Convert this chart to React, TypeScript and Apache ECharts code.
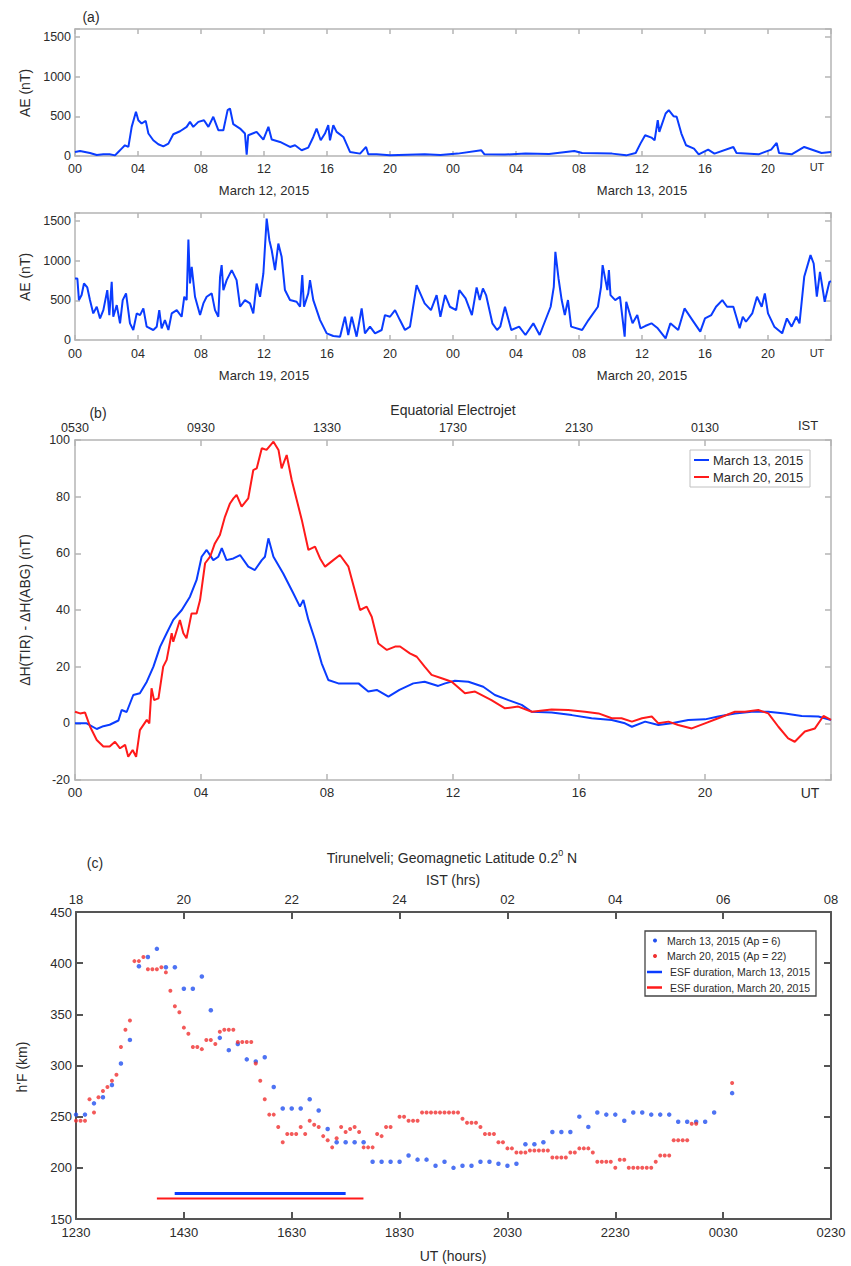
import React, { useEffect, useRef } from "react";
import * as echarts from "echarts";

// ---------------- DATA ----------------
// (a) AE index, hours from 00 UT of first day
const aeMar1213: [number, number][] = [
  [0,51],[0.32,63],[0.95,38],[1.38,13],[1.8,21],[2.2,21],[2.54,8],[2.75,51],[2.96,93],[3.17,135],[3.39,114],[3.6,367],[3.75,473],[3.87,557],[4.02,451],[4.23,409],[4.49,443],[4.66,283],[4.97,198],[5.29,148],[5.61,122],[5.93,156],[6.24,274],[6.67,312],[7.09,367],[7.3,430],[7.51,367],[7.83,430],[8.19,451],[8.47,367],[8.78,494],[9.1,325],[9.42,325],[9.69,578],[9.84,599],[10.05,401],[10.48,346],[10.79,283],[10.9,17],[11.0,262],[11.53,304],[11.96,207],[12.28,367],[12.49,207],[13.02,177],[13.65,114],[13.97,135],[14.39,72],[14.81,105],[15.13,240],[15.34,346],[15.6,198],[15.87,283],[16.08,388],[16.19,198],[16.4,388],[16.61,304],[17.04,240],[17.46,51],[18.1,30],[18.48,114],[18.62,21],[19.15,21],[20,8],[21.1,15],[22.2,21],[23.2,12],[24.3,30],[25.8,72],[26,21],[27.3,18],[28.6,30],[30.1,25],[31.7,63],[32.2,38],[34.1,30],[35,8],[35.6,38],[35.9,156],[36.2,262],[36.6,232],[36.8,198],[37.0,451],[37.1,304],[37.5,536],[37.7,578],[38.0,502],[38.2,494],[38.5,283],[38.8,135],[39.3,93],[39.6,21],[40.2,80],[40.6,30],[41.8,114],[42.0,38],[43.4,21],[44.2,80],[44.55,165],[44.7,38],[45.5,21],[46.3,114],[47.4,38],[48,51]
];
const aeMar1920: [number, number][] = [
  [0,775],[0.15,775],[0.25,503],[0.42,566],[0.57,712],[0.78,662],[0.95,503],[1.16,335],[1.38,419],[1.59,272],[1.8,377],[2.05,629],[2.18,314],[2.33,733],[2.43,293],[2.65,440],[2.86,210],[3.03,503],[3.24,587],[3.49,210],[3.7,126],[3.92,335],[4.13,314],[4.34,398],[4.55,168],[4.97,126],[5.19,168],[5.35,377],[5.5,147],[5.71,251],[5.93,126],[6.14,335],[6.46,377],[6.77,293],[6.94,545],[7.09,503],[7.2,1265],[7.3,712],[7.41,922],[7.62,545],[7.94,314],[8.15,461],[8.36,545],[8.68,587],[8.89,377],[9.1,293],[9.21,796],[9.31,943],[9.42,629],[9.63,754],[9.95,880],[10.26,754],[10.48,419],[10.79,503],[11.11,461],[11.32,335],[11.53,712],[11.75,545],[11.96,838],[12.17,1529],[12.34,1257],[12.49,1131],[12.7,880],[12.91,1215],[13.12,1048],[13.33,629],[13.65,503],[14.07,482],[14.29,419],[14.43,817],[14.54,419],[14.81,587],[14.92,754],[15.13,503],[15.56,251],[15.98,84],[16.4,50],[16.83,42],[17.14,293],[17.35,63],[17.57,293],[17.88,42],[18.2,398],[18.41,84],[18.73,168],[19.05,84],[19.47,126],[19.68,314],[20,293],[20.32,377],[20.63,251],[20.95,126],[21.27,168],[21.69,691],[22.2,461],[22.6,377],[22.96,566],[23.2,293],[23.5,566],[23.8,419],[24.2,377],[24.4,629],[24.8,524],[25.2,314],[25.5,662],[25.7,503],[25.9,650],[26.1,566],[26.5,210],[26.8,126],[27.0,168],[27.3,419],[27.7,126],[28.2,168],[28.6,63],[29.1,210],[29.5,63],[30.2,419],[30.4,670],[30.5,1110],[30.7,775],[30.9,503],[31.1,314],[31.3,503],[31.5,168],[32.2,126],[32.6,251],[33.2,419],[33.4,670],[33.5,943],[33.8,629],[33.9,880],[34.0,566],[34.3,503],[34.6,545],[34.9,42],[35.0,482],[35.4,210],[35.7,314],[35.9,147],[36.2,176],[36.6,210],[37.0,147],[37.5,21],[37.8,210],[38.3,126],[38.7,398],[39.2,251],[39.7,105],[40.0,272],[40.4,314],[40.7,419],[41.1,503],[41.4,419],[41.8,419],[42.2,147],[42.4,293],[42.6,230],[43.0,335],[43.3,545],[43.6,419],[43.8,587],[44.0,335],[44.4,168],[44.9,84],[45.2,272],[45.5,168],[45.8,293],[46.0,210],[46.3,796],[46.7,1069],[46.9,964],[47.1,545],[47.3,859],[47.6,482],[47.9,733],[48,740]
];
const aeDays1 = ["March 12, 2015", "March 13, 2015"];
const aeDays2 = ["March 19, 2015", "March 20, 2015"];

// (b) Equatorial electrojet, UT hours
const eejMar13: [number, number][] = [
  [0,0],[0.37,0],[0.69,-2],[0.9,-1],[1.1,-0.5],[1.38,1],[1.48,4.7],[1.64,4],[1.85,10],[2.06,10.6],[2.28,14.7],[2.49,20],[2.7,27],[2.91,31.8],[3.12,36.5],[3.39,40],[3.65,44.7],[3.86,50.6],[4.02,58.8],[4.18,61.2],[4.39,57.6],[4.55,58.8],[4.66,61.8],[4.81,57.6],[5.03,58.2],[5.24,59.4],[5.5,55.3],[5.71,54.1],[5.93,57.6],[6.03,58.8],[6.14,65.3],[6.3,58.8],[6.61,52.9],[6.93,45.9],[7.14,41.2],[7.25,43.5],[7.41,36.5],[7.62,29.4],[7.83,21.2],[8.04,15.3],[8.36,14.1],[8.73,14.1],[9.0,14.1],[9.31,11.2],[9.58,11.8],[9.95,9.4],[10.3,11.8],[10.74,14.1],[11.1,14.7],[11.53,13.2],[11.75,14.1],[12.06,15],[12.49,14.7],[12.96,12.9],[13.33,10],[13.76,8.2],[14.18,6.5],[14.5,4.1],[15.13,3.8],[15.77,2.9],[16.4,1.8],[17.04,1.2],[17.46,0],[17.68,-1.2],[18.1,0.6],[18.52,-0.6],[18.94,0],[19.47,1.2],[20,1.4],[20.42,2.4],[20.95,3.5],[21.48,4.1],[22.01,4.1],[22.54,3.5],[23.07,2.6],[23.6,2.4],[24,1.2]
];
const eejMar20: [number, number][] = [
  [0,4.1],[0.16,3.5],[0.32,3.8],[0.48,-1.2],[0.69,-5.9],[0.9,-8.2],[1.1,-8.2],[1.27,-6.5],[1.43,-8.8],[1.59,-7.6],[1.69,-11.8],[1.83,-9.4],[1.94,-11.8],[2.06,-2.4],[2.28,1.2],[2.36,0],[2.43,12.4],[2.51,8.2],[2.65,8.8],[2.8,20],[2.91,22.4],[3.07,31.8],[3.12,28.8],[3.33,36.5],[3.44,31.8],[3.54,30],[3.7,38.8],[3.86,38.8],[3.97,43.5],[4.13,56.5],[4.29,58.8],[4.44,63.5],[4.6,66.5],[4.76,72.9],[4.92,77.6],[5.03,79.4],[5.13,80.6],[5.29,76.5],[5.5,79.4],[5.66,89.4],[5.77,90],[5.93,97.1],[6.08,96.5],[6.3,99.4],[6.46,96.5],[6.56,90],[6.72,94.7],[6.88,85.9],[7.04,78.8],[7.2,71.8],[7.41,61.2],[7.62,62.4],[7.78,58.2],[7.94,55.3],[8.2,57.6],[8.41,59.4],[8.68,55.3],[9.05,40],[9.26,41.2],[9.42,37.6],[9.63,28.2],[9.9,25.9],[10.16,27.1],[10.32,27.1],[10.63,24.7],[10.85,23.5],[11.1,20],[11.32,17.1],[11.64,15.9],[11.96,14.7],[12.38,10.6],[12.7,11.2],[13.22,8.2],[13.65,5.3],[14.07,5.9],[14.5,4.1],[15.13,4.9],[15.66,4.7],[16.19,4.1],[16.62,3.5],[17.04,1.8],[17.35,1.8],[17.68,0.6],[18.0,1.8],[18.31,2.4],[18.52,0],[18.84,0.6],[19.15,-0.6],[19.58,-1.8],[20,0],[20.42,1.8],[20.95,4.1],[21.27,4.1],[21.69,4.7],[22.01,3.5],[22.33,-1.2],[22.64,-5.3],[22.85,-6.5],[23.17,-2.9],[23.49,-1.8],[23.76,2.6],[24,1.2]
];
const eejIST = ["0530", "0930", "1330", "1730", "2130", "0130"];
const eejUT = ["00", "04", "08", "12", "16", "20"];

// (c) h'F at Tirunelveli, first sample at 1230 UT
const hfStartUT = 12.5;
const hfMar20StepMin = 5;
const hfMar20: (number | null)[] = [
  246,246,246,267,254,269,275,279,285,291,318,335,344,402,402,406,394,394,394,396,
  391,373,358,352,337,331,318,318,316,325,325,321,333,335,335,335,323,323,323,323,
  302,285,267,252,252,240,225,233,233,233,240,233,246,242,240,231,227,220,229,240,
  235,238,240,235,220,220,220,233,231,240,240,null,250,250,246,246,246,254,254,254,
  254,254,254,254,254,254,248,244,244,244,240,233,233,233,225,225,219,219,215,215,
  215,217,217,217,217,217,210,210,210,210,215,215,219,219,219,215,206,206,206,206,
  200,208,208,200,200,200,200,200,200,206,212,212,212,227,227,227,227,243,243,null,
  null,null,null,null,null,null,283
];
const hfMar13StepMin = 10;
const hfMar13: (number | null)[] = [
  252,252,263,269,281,302,325,397,406,414,396,396,375,375,387,354,327,315,321,306,
  304,308,279,258,258,258,267,256,238,225,225,225,225,206,206,206,206,212,208,208,
  202,206,200,202,202,206,206,204,202,204,223,223,225,235,235,235,250,240,254,252,
  252,246,254,254,252,252,252,245,245,245,245,254,null,273
];
const esfMar13: [number, number] = [14.33, 17.5];
const esfMar13Level = 175;
const esfMar20: [number, number] = [14.0, 17.83];
const esfMar20Level = 170;
const hfUT = ["1230", "1430", "1630", "1830", "2030", "2230", "0030", "0230"];
const hfIST = ["18", "20", "22", "24", "02", "04", "06", "08"];

// ---------------- STYLE ----------------
const FONT = "'Liberation Sans', Arial, Helvetica, sans-serif";
const TXT = "#2b2b2b";
const BLUE = "#0a3cff";
const RED = "#ff1a1a";
const SBLUE = "#2250f0";
const SRED = "#f03030";
const LIGHT = "#b4b4b4";
const DARK = "#555555";

const pad2 = (n: number) => (n < 10 ? "0" + n : "" + n);

function axisDef(gi: number, pos: string, min: number, max: number, interval: number,
  color: string, width: number, fmt: ((v: number) => string) | null, margin: number,
  tickLen: number, fontSize = 13) {
  return {
    type: "value", gridIndex: gi, position: pos, min, max, interval,
    axisLine: { show: true, onZero: false, lineStyle: { color, width } },
    axisTick: { show: true, inside: true, length: tickLen, lineStyle: { color, width } },
    axisLabel: fmt
      ? { show: true, formatter: fmt, color: TXT, fontSize, fontFamily: FONT, margin }
      : { show: false },
    splitLine: { show: false },
  };
}

function txt(x: number, y: number, text: string, size = 13, extra: any = {}) {
  return {
    type: "text", x, y, z: 100, ...extra,
    style: {
      text, fill: TXT, fontSize: size, fontFamily: FONT,
      align: "center", verticalAlign: "middle", textAlign: "center", textVerticalAlign: "middle",
      ...(extra.style || {}),
    },
  };
}

export default function App() {
  const ref = useRef<HTMLDivElement>(null);
  useEffect(() => {
    document.body.style.margin = "0";
    if (!ref.current) return;
    const chart = echarts.init(ref.current, null, { renderer: "svg" });

    const aeFmt = (v: number) => (v >= 48 ? "" : pad2(v % 24));
    const aeYFmt = (v: number) => (v > 1500 ? "" : String(v));
    const eejBottom = (v: number) => (v >= 24 ? "" : eejUT[Math.round(v / 4)]);
    const eejTop = (v: number) => (v >= 24 ? "" : eejIST[Math.round(v / 4)]);
    const hfBottom = (v: number) => hfUT[Math.round((v - 12.5) / 2)] || "";
    const hfTop = (v: number) => hfIST[Math.round((v - 12.5) / 2)] || "";

    const toPairs = (vals: (number | null)[], stepMin: number) =>
      vals.map((v, i) => (v == null ? null : [hfStartUT + (i * stepMin) / 60, v]))
        .filter((p) => p !== null);

    const option: any = {
      animation: false,
      backgroundColor: "#ffffff",
      grid: [
        { left: 75, top: 29, width: 756, height: 127 },
        { left: 75, top: 213, width: 756, height: 127 },
        { left: 75, top: 440, width: 756, height: 340 },
        { left: 76, top: 912, width: 755, height: 307 },
      ],
      xAxis: [
        axisDef(0, "bottom", 0, 48, 4, LIGHT, 1.5, aeFmt, 6, 5, 12.5),
        axisDef(0, "top", 0, 48, 4, LIGHT, 1.5, null, 5, 5),
        axisDef(1, "bottom", 0, 48, 4, LIGHT, 1.5, aeFmt, 7, 5, 12.5),
        axisDef(1, "top", 0, 48, 4, LIGHT, 1.5, null, 5, 5),
        axisDef(2, "bottom", 0, 24, 4, LIGHT, 1.5, eejBottom, 6, 6),
        axisDef(2, "top", 0, 24, 4, LIGHT, 1.5, eejTop, 6, 6, 12.5),
        axisDef(3, "bottom", 12.5, 26.5, 2, DARK, 2, hfBottom, 7, 7),
        axisDef(3, "top", 12.5, 26.5, 2, DARK, 2, hfTop, 6, 7),
      ],
      yAxis: [
        axisDef(0, "left", 0, 1600, 500, LIGHT, 1.5, aeYFmt, 4, 5, 12.5),
        axisDef(0, "right", 0, 1600, 500, LIGHT, 1.5, null, 4, 6),
        axisDef(1, "left", 0, 1600, 500, LIGHT, 1.5, aeYFmt, 4, 5, 12.5),
        axisDef(1, "right", 0, 1600, 500, LIGHT, 1.5, null, 4, 6),
        axisDef(2, "left", -20, 100, 20, LIGHT, 1.5, (v: number) => String(v), 5, 6, 12.5),
        axisDef(2, "right", -20, 100, 20, LIGHT, 1.5, null, 4, 6),
        axisDef(3, "left", 150, 450, 50, DARK, 2, (v: number) => String(v), 4, 7),
        axisDef(3, "right", 150, 450, 50, DARK, 2, null, 4, 7),
      ],
      series: [
        { name: "AE Mar 12-13", type: "line", xAxisIndex: 0, yAxisIndex: 0, data: aeMar1213,
          showSymbol: false, silent: true, lineStyle: { color: BLUE, width: 2 } },
        { name: "AE Mar 19-20", type: "line", xAxisIndex: 2, yAxisIndex: 2, data: aeMar1920,
          showSymbol: false, silent: true, lineStyle: { color: BLUE, width: 2 } },
        { name: "March 13, 2015", type: "line", xAxisIndex: 4, yAxisIndex: 4, data: eejMar13,
          showSymbol: false, silent: true, lineStyle: { color: BLUE, width: 2 } },
        { name: "March 20, 2015", type: "line", xAxisIndex: 4, yAxisIndex: 4, data: eejMar20,
          showSymbol: false, silent: true, lineStyle: { color: RED, width: 2 } },
        { name: "March 13, 2015 (Ap = 6)", type: "scatter", xAxisIndex: 6, yAxisIndex: 6,
          data: toPairs(hfMar13, hfMar13StepMin), symbol: "circle", symbolSize: 4.5, silent: true,
          itemStyle: { color: SBLUE } },
        { name: "March 20, 2015 (Ap = 22)", type: "scatter", xAxisIndex: 6, yAxisIndex: 6,
          data: toPairs(hfMar20, hfMar20StepMin), symbol: "circle", symbolSize: 4, silent: true,
          itemStyle: { color: SRED } },
        { name: "ESF duration, March 13, 2015", type: "line", xAxisIndex: 6, yAxisIndex: 6,
          data: [[esfMar13[0], esfMar13Level], [esfMar13[1], esfMar13Level]],
          showSymbol: false, silent: true, lineStyle: { color: BLUE, width: 3 } },
        { name: "ESF duration, March 20, 2015", type: "line", xAxisIndex: 6, yAxisIndex: 6,
          data: [[esfMar20[0], esfMar20Level], [esfMar20[1], esfMar20Level]],
          showSymbol: false, silent: true, lineStyle: { color: RED, width: 2 } },
      ],
      graphic: [
        // panel (a)
        txt(91, 17, "(a)", 14),
        txt(264, 190, aeDays1[0], 13),
        txt(642, 190, aeDays1[1], 13),
        txt(817, 167, "UT", 11),
        txt(25, 93, "AE (nT)", 14, { rotation: Math.PI / 2 }),
        txt(264, 375, aeDays2[0], 13),
        txt(642, 375, aeDays2[1], 13),
        txt(817, 353, "UT", 11),
        txt(25, 277, "AE (nT)", 14, { rotation: Math.PI / 2 }),
        // panel (b)
        txt(98, 413, "(b)", 14),
        txt(453, 410, "Equatorial Electrojet", 14),
        txt(808, 425, "IST", 13),
        txt(810, 793, "UT", 14),
        txt(25, 610, "ΔH(TIR) - ΔH(ABG) (nT)", 14, { rotation: Math.PI / 2 }),
        { type: "rect", z: 99, shape: { x: 690, y: 450, width: 120, height: 37 },
          style: { fill: "#ffffff", stroke: "#c0c0c0", lineWidth: 1 } },
        { type: "line", z: 100, shape: { x1: 694, y1: 460, x2: 709, y2: 460 },
          style: { stroke: BLUE, lineWidth: 2 } },
        { type: "line", z: 100, shape: { x1: 694, y1: 477, x2: 709, y2: 477 },
          style: { stroke: RED, lineWidth: 2 } },
        txt(713, 460, "March 13, 2015", 13, { style: { align: "left", textAlign: "left" } }),
        txt(713, 477, "March 20, 2015", 13, { style: { align: "left", textAlign: "left" } }),
        // panel (c)
        txt(95, 863, "(c)", 14),
        {
          type: "text", x: 452, y: 858, z: 100,
          style: {
            text: "Tirunelveli; Geomagnetic Latitude 0.2{sup|0} N",
            fill: TXT, fontSize: 14, fontFamily: FONT, lineHeight: 20,
            align: "center", verticalAlign: "middle", textAlign: "center", textVerticalAlign: "middle",
            rich: { sup: { fontSize: 9, fontFamily: FONT, fill: TXT, verticalAlign: "top", lineHeight: 9 } },
          },
        },
        txt(453, 880, "IST (hrs)", 14),
        txt(453, 1256, "UT (hours)", 14),
        txt(22, 1067, "h'F (km)", 14, { rotation: Math.PI / 2 }),
        { type: "rect", z: 99, shape: { x: 645, y: 931, width: 171, height: 65 },
          style: { fill: "#ffffff", stroke: "#444444", lineWidth: 1.3 } },
        { type: "circle", z: 100, shape: { cx: 655, cy: 940.5, r: 2 }, style: { fill: SBLUE } },
        { type: "circle", z: 100, shape: { cx: 655, cy: 956, r: 2 }, style: { fill: SRED } },
        { type: "line", z: 100, shape: { x1: 647, y1: 972, x2: 662, y2: 972 },
          style: { stroke: BLUE, lineWidth: 2.5 } },
        { type: "line", z: 100, shape: { x1: 647, y1: 987.5, x2: 662, y2: 987.5 },
          style: { stroke: RED, lineWidth: 2.5 } },
        txt(667, 940.5, "March 13, 2015 (Ap = 6)", 10.5, { style: { align: "left", textAlign: "left" } }),
        txt(667, 956, "March 20, 2015 (Ap = 22)", 10.5, { style: { align: "left", textAlign: "left" } }),
        txt(670, 972, "ESF duration, March 13, 2015", 10.5, { style: { align: "left", textAlign: "left" } }),
        txt(670, 987.5, "ESF duration, March 20, 2015", 10.5, { style: { align: "left", textAlign: "left" } }),
      ],
    };
    chart.setOption(option);
    return () => chart.dispose();
  }, []);
  return (
    <div
      ref={ref}
      style={{ position: "absolute", left: 0, top: 0, width: 851, height: 1266, background: "#fff" }}
    />
  );
}
